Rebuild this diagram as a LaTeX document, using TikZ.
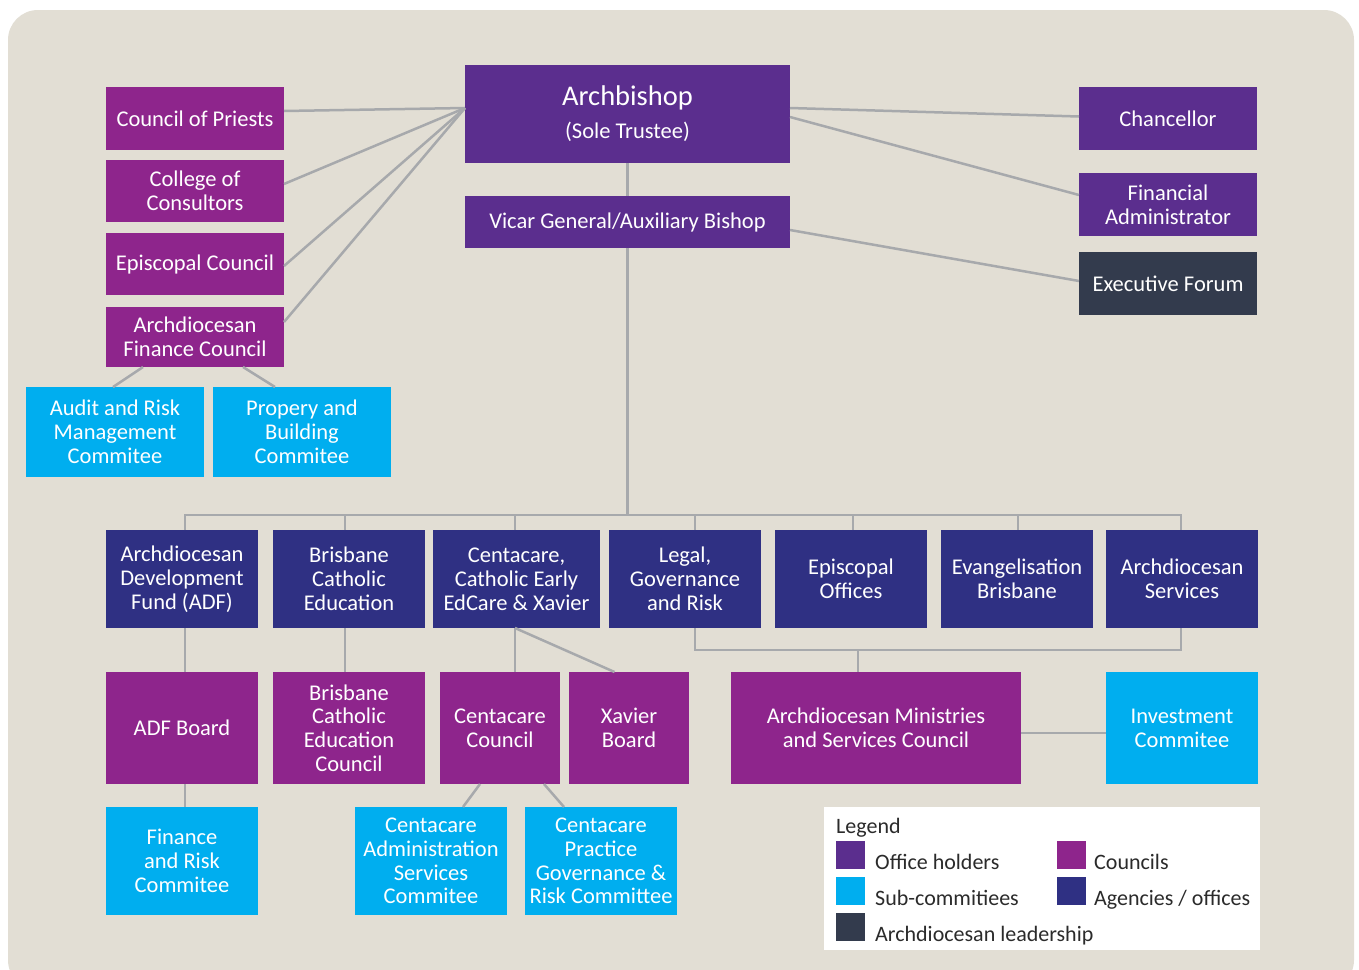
\documentclass[tikz,border=0pt]{standalone}
\usepackage{fontspec}
\setmainfont{Carlito}
\usetikzlibrary{calc}
\definecolor{bgc}{HTML}{E2DED4}
\definecolor{office}{HTML}{5B2E8E}
\definecolor{council}{HTML}{8E258C}
\definecolor{subc}{HTML}{00AEEF}
\definecolor{agency}{HTML}{2F3083}
\definecolor{leader}{HTML}{333B4D}
\definecolor{linec}{HTML}{A7A9AC}
\definecolor{legtext}{HTML}{2B2B2B}
\begin{document}
\begin{tikzpicture}[x=1pt,y=-1pt,
  box/.style={rectangle, inner sep=0pt, outer sep=0pt, text=white, align=center,
    font=\fontsize{22.5}{23.8}\selectfont},
  officebox/.style={box, fill=office},
  councilbox/.style={box, fill=council},
  subbox/.style={box, fill=subc},
  agencybox/.style={box, fill=agency},
  leaderbox/.style={box, fill=leader},
  conn/.style={draw=linec, line width=2.5pt},
  swatch/.style={rectangle, inner sep=0pt, minimum width=29pt, minimum height=28pt, anchor=north west},
  legtxt/.style={anchor=base west, inner sep=0pt, text=legtext, font=\fontsize{22}{23}\selectfont}
]
\useasboundingbox (0,0) rectangle (1359,969);
\fill[white] (0,0) rectangle (1359,969);
\fill[bgc, rounded corners=30pt] (8,10) rectangle (1354,990);

% Office holders
\node[officebox, minimum width=325pt, minimum height=98pt] (arch) at (627.5,114)
  {{\fontsize{28.5}{30}\selectfont Archbishop}\\[9pt](Sole Trustee)};
\node[officebox, minimum width=325pt, minimum height=52pt] (vicar) at (627.5,222) {Vicar General/Auxiliary Bishop};
\node[officebox, minimum width=178pt, minimum height=63pt] (chanc) at (1168,118.5) {Chancellor};
\node[officebox, minimum width=178pt, minimum height=63pt] (finadm) at (1168,204.5) {Financial\\Administrator};
\node[leaderbox, minimum width=178pt, minimum height=63pt] (exec) at (1168,283.5) {Executive Forum};

% Left councils
\node[councilbox, minimum width=178pt, minimum height=63pt] (cop) at (195,118.5) {Council of Priests};
\node[councilbox, minimum width=178pt, minimum height=62pt] (coc) at (195,191) {College of\\Consultors};
\node[councilbox, minimum width=178pt, minimum height=62pt] (epc) at (195,264) {Episcopal Council};
\node[councilbox, minimum width=178pt, minimum height=60pt] (afc) at (195,337) {Archdiocesan\\Finance Council};
\node[subbox, minimum width=178pt, minimum height=90pt] (audit) at (115,432) {Audit and Risk\\Management\\Commitee};
\node[subbox, minimum width=178pt, minimum height=90pt] (prop) at (302,432) {Propery and\\Building\\Commitee};

% Agencies row
\node[agencybox, minimum width=152pt, minimum height=98pt] (adf) at (182,579) {Archdiocesan\\Development\\Fund (ADF)};
\node[agencybox, minimum width=152pt, minimum height=98pt] (bce) at (349,579) {Brisbane\\Catholic\\Education};
\node[agencybox, minimum width=167pt, minimum height=98pt] (cent) at (516.5,579) {Centacare,\\Catholic Early\\EdCare \& Xavier};
\node[agencybox, minimum width=152pt, minimum height=98pt] (legal) at (685,579) {Legal,\\Governance\\and Risk};
\node[agencybox, minimum width=152pt, minimum height=98pt] (epo) at (851,579) {Episcopal\\Offices};
\node[agencybox, minimum width=152pt, minimum height=98pt] (evb) at (1017,579) {Evangelisation\\Brisbane};
\node[agencybox, minimum width=152pt, minimum height=98pt] (ars) at (1182,579) {Archdiocesan\\Services};

% Councils row
\node[councilbox, minimum width=152pt, minimum height=112pt] (adfb) at (182,728) {ADF Board};
\node[councilbox, minimum width=152pt, minimum height=112pt] (bcec) at (349,728) {Brisbane\\Catholic\\Education\\Council};
\node[councilbox, minimum width=120pt, minimum height=112pt] (cc) at (500,728) {Centacare\\Council};
\node[councilbox, minimum width=120pt, minimum height=112pt] (xb) at (629,728) {Xavier\\Board};
\node[councilbox, minimum width=290pt, minimum height=112pt] (amsc) at (876,728) {Archdiocesan Ministries\\and Services Council};
\node[subbox, minimum width=152pt, minimum height=112pt] (inv) at (1182,728) {Investment\\Commitee};

% Sub-committees row
\node[subbox, minimum width=152pt, minimum height=108pt] (far) at (182,861) {Finance\\and Risk\\Commitee};
\node[subbox, minimum width=152pt, minimum height=108pt] (cas) at (431,861) {Centacare\\Administration\\Services\\Commitee};
\node[subbox, minimum width=152pt, minimum height=108pt] (cpg) at (601,861) {Centacare\\Practice\\Governance \&\\Risk Committee};

% Connectors: archbishop to left councils
\coordinate (archL) at ($(arch.west)+(0,-6)$);
\draw[conn] (archL) -- ($(cop.east)+(0,-7.5)$);
\draw[conn] (archL) -- ($(coc.east)+(0,-7)$);
\draw[conn] (archL) -- ($(epc.east)+(0,2)$);
\draw[conn] (archL) -- ($(afc.east)+(0,-15)$);
\draw[conn] ($(afc.south)+(-52,0)$) -- ($(audit.north)+(-2,0)$);
\draw[conn] ($(afc.south)+(48,0)$) -- ($(prop.north)+(-27,0)$);

% Archbishop to right
\draw[conn] ($(arch.east)+(0,-6)$) -- ($(chanc.west)+(0,-2)$);
\draw[conn] ($(arch.east)+(0,3)$) -- ($(finadm.west)+(0,-9.5)$);
\draw[conn] ($(vicar.east)+(0,8)$) -- ($(exec.west)+(0,-2.5)$);
\draw[conn] (arch.south) -- (vicar.north);

% Main bus
\coordinate (busC) at ($(vicar.south)+(0,267)$);
\draw[conn] (vicar.south) -- (busC);
\coordinate (adfT) at ($(adf.north)+(3,0)$);
\coordinate (arsT) at ($(ars.north)+(-1,0)$);
\draw[conn] (adfT) -- (adfT |- busC) -- (arsT |- busC) -- (arsT);
\coordinate (bceT) at ($(bce.north)+(-4,0)$);
\coordinate (centT) at ($(cent.north)+(-1.5,0)$);
\coordinate (legalT) at ($(legal.north)+(10,0)$);
\coordinate (epoT) at ($(epo.north)+(2,0)$);
\coordinate (evbT) at ($(evb.north)+(1,0)$);
\draw[conn] (bceT) -- (bceT |- busC);
\draw[conn] (centT) -- (centT |- busC);
\draw[conn] (legalT) -- (legalT |- busC);
\draw[conn] (epoT) -- (epoT |- busC);
\draw[conn] (evbT) -- (evbT |- busC);

% Second bus
\coordinate (legalB) at ($(legal.south)+(10,0)$);
\coordinate (arsB) at ($(ars.south)+(-1,0)$);
\coordinate (amscT) at ($(amsc.north)+(-18,0)$);
\coordinate (bus2) at ($(amscT)+(0,-22)$);
\draw[conn] (legalB) -- (legalB |- bus2) -- (arsB |- bus2) -- (arsB);
\draw[conn] (bus2) -- (amscT);

% Agencies to councils
\draw[conn] ($(adf.south)+(3,0)$) -- ($(adfb.north)+(3,0)$);
\draw[conn] ($(bce.south)+(-4,0)$) -- ($(bcec.north)+(-4,0)$);
\coordinate (centB) at ($(cent.south)+(-1.5,0)$);
\draw[conn] (centB) -- ($(cc.north)+(15,0)$);
\draw[conn] (centB) -- ($(xb.north)+(-14.5,0)$);
\draw[conn] ($(amsc.east)+(0,5)$) -- ($(inv.west)+(0,5)$);

% Councils to sub-committees
\draw[conn] ($(adfb.south)+(3,0)$) -- ($(far.north)+(3,0)$);
\draw[conn] ($(cc.south)+(-20,0)$) -- ($(cas.north)+(32,0)$);
\draw[conn] ($(cc.south)+(44,0)$) -- ($(cpg.north)+(-37,0)$);

% Legend
\node[rectangle, fill=white, inner sep=0pt, minimum width=436pt, minimum height=143pt, anchor=north west] (legbox) at (824,807) {};
\node[legtxt] (legtitle) at (836,833) {Legend};
\node[swatch, fill=office] (sw1) at (836,841) {};
\node[legtxt] (lt1) at (875,869) {Office holders};
\node[swatch, fill=council] (sw2) at (1057,841) {};
\node[legtxt] (lt2) at (1094,869) {Councils};
\node[swatch, fill=subc] (sw3) at (836,877) {};
\node[legtxt] (lt3) at (875,905) {Sub-commitiees};
\node[swatch, fill=agency] (sw4) at (1057,877) {};
\node[legtxt] (lt4) at (1094,905) {Agencies / offices};
\node[swatch, fill=leader] (sw5) at (836,913) {};
\node[legtxt] (lt5) at (875,941) {Archdiocesan leadership};
\end{tikzpicture}
\end{document}
